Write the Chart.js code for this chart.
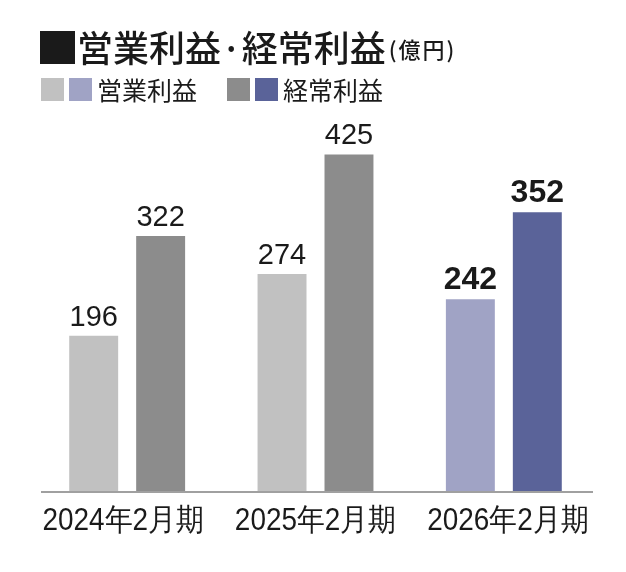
<!DOCTYPE html>
<html>
<head>
<meta charset="utf-8">
<script src="https://cdn.jsdelivr.net/npm/chart.js@4/dist/chart.umd.min.js"></script>
<style>
  body { margin: 0; background: #fff; }
  canvas { display: block; }
</style>
</head>
<body>
<canvas id="chart" width="626" height="572"></canvas>
<script>
// DATA
const categories = ["2024年2月期", "2025年2月期", "2026年2月期"];
const seriesNames = ["営業利益", "経常利益"];
const operatingProfit = [196, 274, 242];
const ordinaryProfit = [322, 425, 352];
const titleText = "営業利益·経常利益";
const unitText = "(億円)";

// COLORS (last year is highlighted)
const opColors = ["#c1c1c1", "#c1c1c1", "#a0a3c5"];
const ordColors = ["#8c8c8c", "#8c8c8c", "#5a6399"];
const lastIndex = categories.length - 1;

const jp = '"Noto Sans CJK JP", "Noto Sans", sans-serif';
const num = '"Liberation Sans", Arial, sans-serif';

// TITLE + LEGEND + LABELS
const decor = {
  id: "decor",
  afterDatasetsDraw(chart) {
    const ctx = chart.ctx;
    const x = chart.scales.x;
    const y = chart.scales.y;
    ctx.save();

    // title
    ctx.fillStyle = "#1a1a1a";
    ctx.fillRect(40, 31, 35, 33);
    ctx.textBaseline = "middle";
    ctx.textAlign = "left";
    ctx.font = "500 36px " + jp;
    ctx.fillText(titleText, 77, 48);
    let w = ctx.measureText(titleText).width;
    ctx.font = "500 22px " + jp;
    ctx.letterSpacing = "2px";
    ctx.fillText(unitText, 77 + w + 3, 50);
    ctx.letterSpacing = "0px";

    // legend
    ctx.font = "25px " + jp;
    const groups = [
      { x: 41, colors: [opColors[0], opColors[lastIndex]], text: seriesNames[0] },
      { x: 227, colors: [ordColors[0], ordColors[lastIndex]], text: seriesNames[1] }
    ];
    groups.forEach(g => {
      ctx.fillStyle = g.colors[0];
      ctx.fillRect(g.x, 78, 23, 23);
      ctx.fillStyle = g.colors[1];
      ctx.fillRect(g.x + 28, 78, 23, 23);
      ctx.fillStyle = "#1a1a1a";
      ctx.fillText(g.text, g.x + 56, 90);
    });

    // baseline
    const y0 = y.getPixelForValue(0);
    ctx.strokeStyle = "#a0a0a0";
    ctx.lineWidth = 2;
    ctx.beginPath();
    ctx.moveTo(chart.chartArea.left + 8, y0 + 1);
    ctx.lineTo(chart.chartArea.right - 5, y0 + 1);
    ctx.stroke();

    // category labels (slightly condensed)
    ctx.fillStyle = "#1a1a1a";
    ctx.textAlign = "center";
    ctx.textBaseline = "middle";
    ctx.font = "31px " + num;
    categories.forEach((c, i) => {
      ctx.save();
      ctx.translate(x.getPixelForValue(i) - 4 + i * 4, 521);
      ctx.scale(0.9, 1);
      ctx.fillText(c, 0, 0);
      ctx.restore();
    });

    // value labels
    ctx.textBaseline = "alphabetic";
    chart.data.datasets.forEach((ds, di) => {
      chart.getDatasetMeta(di).data.forEach((bar, i) => {
        ctx.font = (i === lastIndex ? "bold 32px " : "29px ") + num;
        ctx.fillText(ds.data[i], bar.x, bar.y - 10);
      });
    });

    ctx.restore();
  }
};

new Chart(document.getElementById("chart"), {
  type: "bar",
  data: {
    labels: categories,
    datasets: [
      { label: seriesNames[0], data: operatingProfit, backgroundColor: opColors },
      { label: seriesNames[1], data: ordinaryProfit, backgroundColor: ordColors }
    ]
  },
  options: {
    responsive: false,
    animation: false,
    layout: { padding: { left: 33, right: 28, top: 95, bottom: 81 } },
    datasets: { bar: { categoryPercentage: 0.711, barPercentage: 0.731 } },
    plugins: { legend: { display: false }, tooltip: { enabled: false } },
    scales: {
      x: { display: false },
      y: { display: false, min: 0, max: 500 }
    }
  },
  plugins: [decor]
});
</script>
</body>
</html>
